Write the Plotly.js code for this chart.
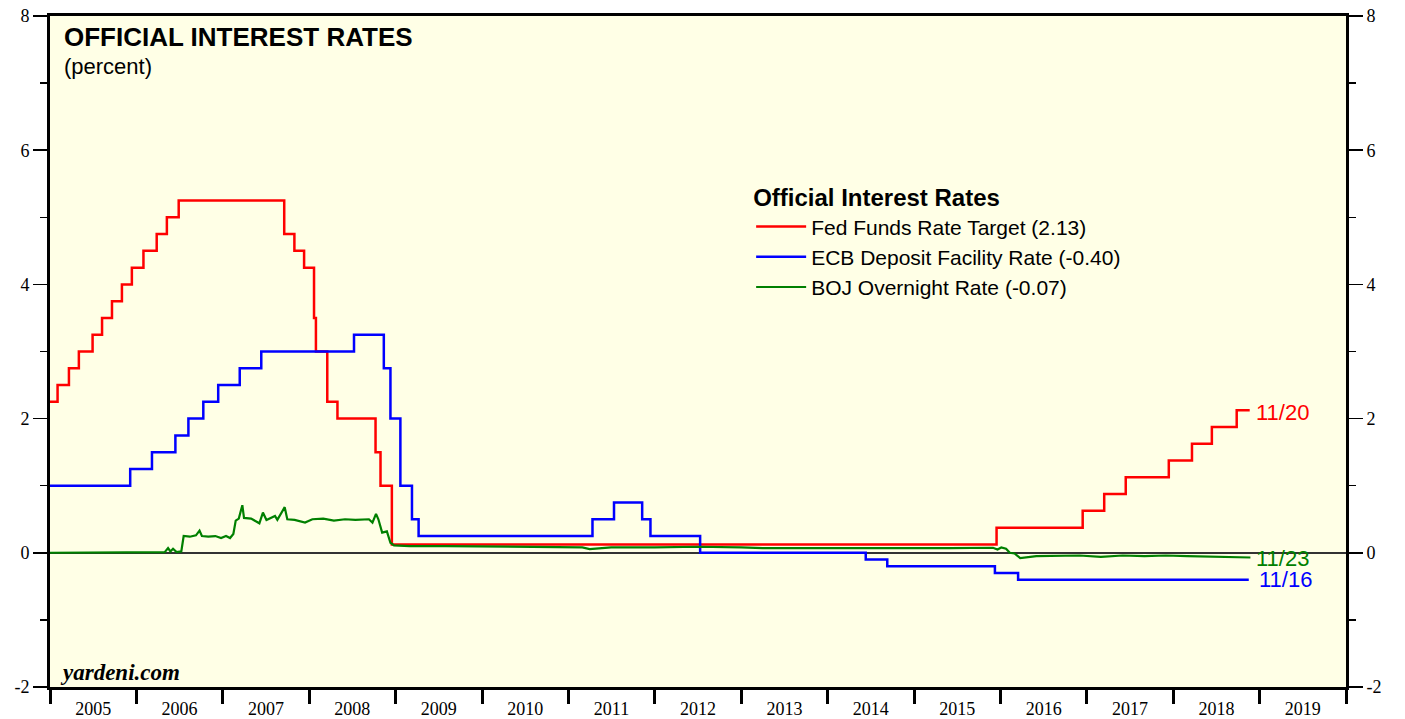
<!DOCTYPE html>
<html>
<head>
<meta charset="utf-8">
<script src="https://cdn.plot.ly/plotly-3.0.1.min.js"></script>
<style>
html,body{margin:0;padding:0;background:#fff;}
#chart{width:1405px;height:719px;}
</style>
</head>
<body>
<div id="chart"></div>
<script>
// Fed Funds Rate Target (step changes)
const fedDates = ["2005-01-01","2005-02-02","2005-03-22","2005-05-03","2005-06-30","2005-08-09","2005-09-20","2005-11-01","2005-12-13","2006-01-31","2006-03-28","2006-05-10","2006-06-29","2007-09-18","2007-10-31","2007-12-11","2008-01-22","2008-01-30","2008-03-18","2008-04-30","2008-10-08","2008-10-29","2008-12-16","2015-12-16","2016-12-14","2017-03-15","2017-06-14","2017-12-13","2018-03-21","2018-06-13","2018-09-26","2018-11-20"];
const fedValues = [2.25,2.50,2.75,3.00,3.25,3.50,3.75,4.00,4.25,4.50,4.75,5.00,5.25,4.75,4.50,4.25,3.50,3.00,2.25,2.00,1.50,1.00,0.125,0.375,0.625,0.875,1.125,1.375,1.625,1.875,2.125,2.125];

// ECB Deposit Facility Rate (step changes)
const ecbDates = ["2005-01-01","2005-12-06","2006-03-08","2006-06-15","2006-08-09","2006-10-11","2006-12-13","2007-03-14","2007-06-13","2008-07-09","2008-11-12","2008-12-10","2009-01-21","2009-03-11","2009-04-08","2011-04-13","2011-07-13","2011-11-09","2011-12-14","2012-07-11","2014-06-11","2014-09-10","2015-12-09","2016-03-16","2018-11-16"];
const ecbValues = [1.00,1.25,1.50,1.75,2.00,2.25,2.50,2.75,3.00,3.25,2.75,2.00,1.00,0.50,0.25,0.50,0.75,0.50,0.25,0.00,-0.10,-0.20,-0.30,-0.40,-0.40];

// BOJ Overnight Call Rate (market rate)
const bojDates = ["2005-01-01","2005-07-01","2006-01-01","2006-04-01","2006-05-01","2006-05-15","2006-05-25","2006-06-05","2006-06-20","2006-07-10","2006-07-20","2006-08-15","2006-09-10","2006-09-25","2006-10-05","2006-11-01","2006-12-01","2006-12-25","2007-01-15","2007-02-01","2007-02-15","2007-02-25","2007-03-10","2007-03-25","2007-04-01","2007-05-01","2007-06-05","2007-06-20","2007-07-05","2007-08-10","2007-08-20","2007-09-20","2007-10-01","2007-11-01","2007-12-15","2008-01-15","2008-03-01","2008-04-15","2008-06-01","2008-07-15","2008-09-10","2008-09-25","2008-10-10","2008-10-20","2008-11-05","2008-11-25","2008-12-10","2008-12-25","2009-03-01","2009-08-01","2010-03-01","2010-09-01","2011-03-01","2011-04-01","2011-07-01","2012-01-01","2012-07-01","2013-01-01","2013-04-01","2013-10-01","2014-06-01","2014-12-01","2015-06-01","2015-12-01","2015-12-20","2016-01-05","2016-01-25","2016-02-10","2016-03-01","2016-03-25","2016-06-01","2016-09-01","2016-12-01","2017-03-01","2017-06-01","2017-09-01","2017-12-01","2018-03-01","2018-06-01","2018-09-01","2018-11-23"];
const bojValues = [0.001,0.002,0.002,0.002,0.01,0.07,0.02,0.06,0.01,0.02,0.25,0.24,0.26,0.33,0.25,0.24,0.25,0.22,0.25,0.22,0.28,0.48,0.51,0.71,0.52,0.51,0.44,0.60,0.49,0.55,0.49,0.68,0.50,0.49,0.45,0.50,0.51,0.48,0.50,0.49,0.50,0.45,0.58,0.50,0.30,0.32,0.15,0.11,0.10,0.10,0.09,0.09,0.08,0.055,0.08,0.08,0.09,0.08,0.07,0.07,0.065,0.07,0.07,0.075,0.05,0.08,0.06,0.00,-0.01,-0.08,-0.05,-0.05,-0.04,-0.06,-0.04,-0.05,-0.04,-0.05,-0.06,-0.06,-0.07];

const seriesNames = ["Fed Funds Rate Target (2.13)","ECB Deposit Facility Rate (-0.40)","BOJ Overnight Rate (-0.07)"];
const endLabels = ["11/20","11/16","11/23"];
const yTickVals = [-2, 0, 2, 4, 6, 8];
const yTickText = ["-2", "0", "2", "4", "6", "8"];
const colors = ["#ff0000","#0000ff","#008000"];

const sans = "Liberation Sans, Arial, Helvetica, sans-serif";
const serif = "Liberation Serif, Times New Roman, serif";

const traces = [
  {x: fedDates, y: fedValues, name: seriesNames[0], mode: "lines", line: {color: colors[0], width: 2.5, shape: "hv"}},
  {x: ecbDates, y: ecbValues, name: seriesNames[1], mode: "lines", line: {color: colors[1], width: 2.5, shape: "hv"}},
  {x: bojDates, y: bojValues, name: seriesNames[2], mode: "lines", line: {color: colors[2], width: 2.2}},
  {x: [fedDates[0]], y: [fedValues[0]], xaxis: "x2", yaxis: "y2", mode: "lines", showlegend: false, hoverinfo: "skip", line: {color: "rgba(0,0,0,0)"}}
];

const yCommon = {
  range: [-2, 8], tickmode: "array", tickvals: yTickVals, ticktext: yTickText,
  ticks: "outside", ticklen: 14, tickwidth: 1.5, tickcolor: "#000",
  showline: true, linewidth: 3, linecolor: "#000", showgrid: false, fixedrange: true,
  tickfont: {family: serif, size: 18, color: "#000"},
  minor: {dtick: 1, tick0: -1, ticks: "outside", ticklen: 7, tickwidth: 1.5, tickcolor: "#000", showgrid: false}
};

const xRange = ["2005-01-01", "2020-01-01"];

const layout = {
  width: 1405, height: 719,
  margin: {l: 50, r: 59, t: 16, b: 32},
  paper_bgcolor: "#ffffff",
  plot_bgcolor: "#ffffe6",
  showlegend: true,
  legend: {
    x: 0.541, y: 0.763, xanchor: "left", yanchor: "top",
    bgcolor: "rgba(0,0,0,0)", borderwidth: 0,
    font: {family: sans, size: 21, color: "#000"},
    title: {text: "<b>Official Interest Rates</b>", font: {family: sans, size: 24, color: "#000"}},
    itemwidth: 50,
    tracegroupgap: 0
  },
  xaxis: {
    type: "date", range: xRange,
    tick0: "2005-01-01", dtick: "M12", showticklabels: false,
    ticks: "outside", ticklen: 14, tickwidth: 3, tickcolor: "#000",
    showline: true, linewidth: 3, linecolor: "#000", mirror: true, showgrid: false, zeroline: false
  },
  xaxis2: {
    type: "date", range: xRange, overlaying: "x", side: "bottom",
    tick0: "2005-01-01", dtick: "M12", tickformat: "%Y", ticklabelmode: "period",
    ticks: "outside", ticklen: 5, tickcolor: "rgba(0,0,0,0)",
    showline: false, showgrid: false, zeroline: false,
    tickfont: {family: serif, size: 18, color: "#000"}
  },
  yaxis: Object.assign({}, yCommon, {side: "left", zeroline: true, zerolinecolor: "#333", zerolinewidth: 1.5, mirror: false}),
  yaxis2: Object.assign({}, yCommon, {side: "right", overlaying: "y", zeroline: false}),
  title: {
    text: "<b>OFFICIAL INTEREST RATES</b>",
    x: 64 / 1405, xanchor: "left", xref: "container",
    y: 1 - 37 / 719, yanchor: "middle", yref: "container",
    font: {family: sans, size: 26, color: "#000"}
  },
  annotations: [
    {text: "(percent)", xref: "paper", yref: "paper", x: 12 / 1296, y: (687 - 67) / 671, xanchor: "left", yanchor: "middle", showarrow: false, font: {family: sans, size: 22, color: "#000"}},
    {text: "<b><i>yardeni.com</i></b>", xref: "paper", yref: "paper", x: 8 / 1296, y: (687 - 672) / 671, xanchor: "left", yanchor: "middle", showarrow: false, font: {family: serif, size: 23, color: "#000"}},
    {text: endLabels[0], x: fedDates[fedDates.length - 1], y: fedValues[fedValues.length - 1], xanchor: "left", yanchor: "middle", xshift: 4, yshift: -2, showarrow: false, font: {family: sans, size: 22, color: colors[0]}},
    {text: endLabels[1], x: ecbDates[ecbDates.length - 1], y: ecbValues[ecbValues.length - 1], xanchor: "left", yanchor: "middle", xshift: 8, yshift: 0, showarrow: false, font: {family: sans, size: 22, color: colors[1]}},
    {text: endLabels[2], x: bojDates[bojDates.length - 1], y: bojValues[bojValues.length - 1], xanchor: "left", yanchor: "middle", xshift: 4, yshift: -1, showarrow: false, font: {family: sans, size: 22, color: colors[2]}}
  ]
};

Plotly.newPlot("chart", traces, layout, {displayModeBar: false, staticPlot: true});
</script>
</body>
</html>
